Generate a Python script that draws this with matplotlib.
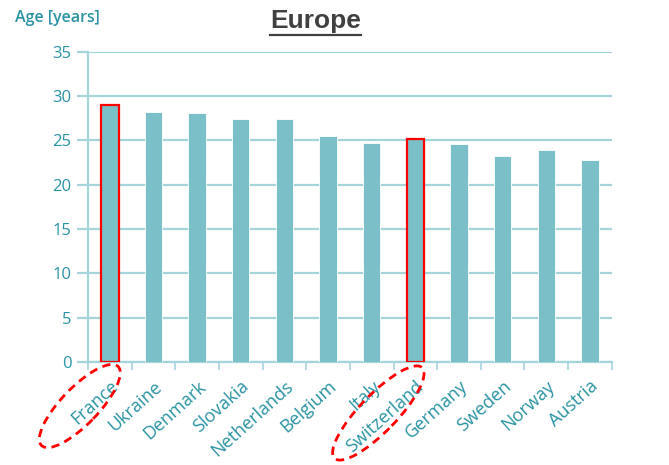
import matplotlib
matplotlib.use("Agg")
import matplotlib.pyplot as plt
import matplotlib.transforms as mtransforms
from matplotlib.patches import Ellipse

countries = ["France", "Ukraine", "Denmark", "Slovakia", "Netherlands", "Belgium",
             "Italy", "Switzerland", "Germany", "Sweden", "Norway", "Austria"]
ages = [29.0, 28.2, 28.1, 27.4, 27.4, 25.5, 24.7, 25.2, 24.6, 23.3, 23.9, 22.8]
highlight = ["France", "Switzerland"]
y_ticks = [0, 5, 10, 15, 20, 25, 30, 35]

BAR = "#7bbfc9"
GRID = "#a6d4db"
TEAL = "#2a93a3"

plt.rcParams["font.family"] = ["Open Sans", "DejaVu Sans"]

fig = plt.figure(figsize=(6.69, 4.65), dpi=100)
ax = fig.add_axes([0.1315, 0.2215, 0.783, 0.667])

x = list(range(len(countries)))
edges = ["red" if c in highlight else "white" for c in countries]
lws = [1.6 if c in highlight else 0.6 for c in countries]
ax.bar(x, ages, width=0.4, color=BAR, edgecolor=edges, linewidth=lws, zorder=3)

ax.set_xlim(-0.5, len(countries) - 0.5)
ax.set_ylim(0, 35)
ax.set_yticks(y_ticks)
ax.set_yticklabels([str(v) for v in y_ticks], fontsize=12, color=TEAL)
ax.grid(axis="y", color=GRID, linewidth=1.6, zorder=0)
ax.tick_params(axis="y", length=8, width=1.6, color=GRID, pad=4)

ax.set_xticks(x)
ax.set_xticklabels(countries, rotation=42, ha="right", rotation_mode="anchor",
                   fontsize=13, color=TEAL)
ax.tick_params(axis="x", which="major", length=0, pad=11)
ax.set_xticks([i - 0.5 for i in range(len(countries) + 1)], minor=True)
ax.tick_params(axis="x", which="minor", length=6, width=1.2, color=GRID)

for side in ["top", "right"]:
    ax.spines[side].set_visible(False)
for side in ["left", "bottom"]:
    ax.spines[side].set_color(GRID)
    ax.spines[side].set_linewidth(1.6)

fig.text(0.022, 0.962, "Age [years]", fontsize=11.5, fontweight="semibold", color=TEAL,
         ha="left", va="center")

title = fig.text(0.472, 0.955, "Europe", fontsize=19, fontweight="bold", color="#404040",
                 ha="center", va="center", family=["Liberation Sans Narrow", "Liberation Sans"])
fig.canvas.draw()
bb = title.get_window_extent().transformed(fig.transFigure.inverted())
fig.add_artist(plt.Line2D([bb.x0, bb.x1], [bb.y0 - 0.004, bb.y0 - 0.004],
                          transform=fig.transFigure, color="#404040", linewidth=1.6))

# dashed ellipses around the highlighted labels
ellipse_geom = {"France": ((-0.30, -0.44), 1.10), "Switzerland": ((-0.37, -0.51), 1.26)}
for name in highlight:
    i = countries.index(name)
    trans = fig.dpi_scale_trans + mtransforms.ScaledTranslation(i, 0, ax.transData)
    center, length = ellipse_geom[name]
    ell = Ellipse(center, width=length, height=0.37, angle=46,
                  transform=trans, fill=False, edgecolor="red", linestyle=(0, (3, 2)),
                  linewidth=2.0, clip_on=False)
    fig.add_artist(ell)

fig.savefig("out.png", dpi=100)
